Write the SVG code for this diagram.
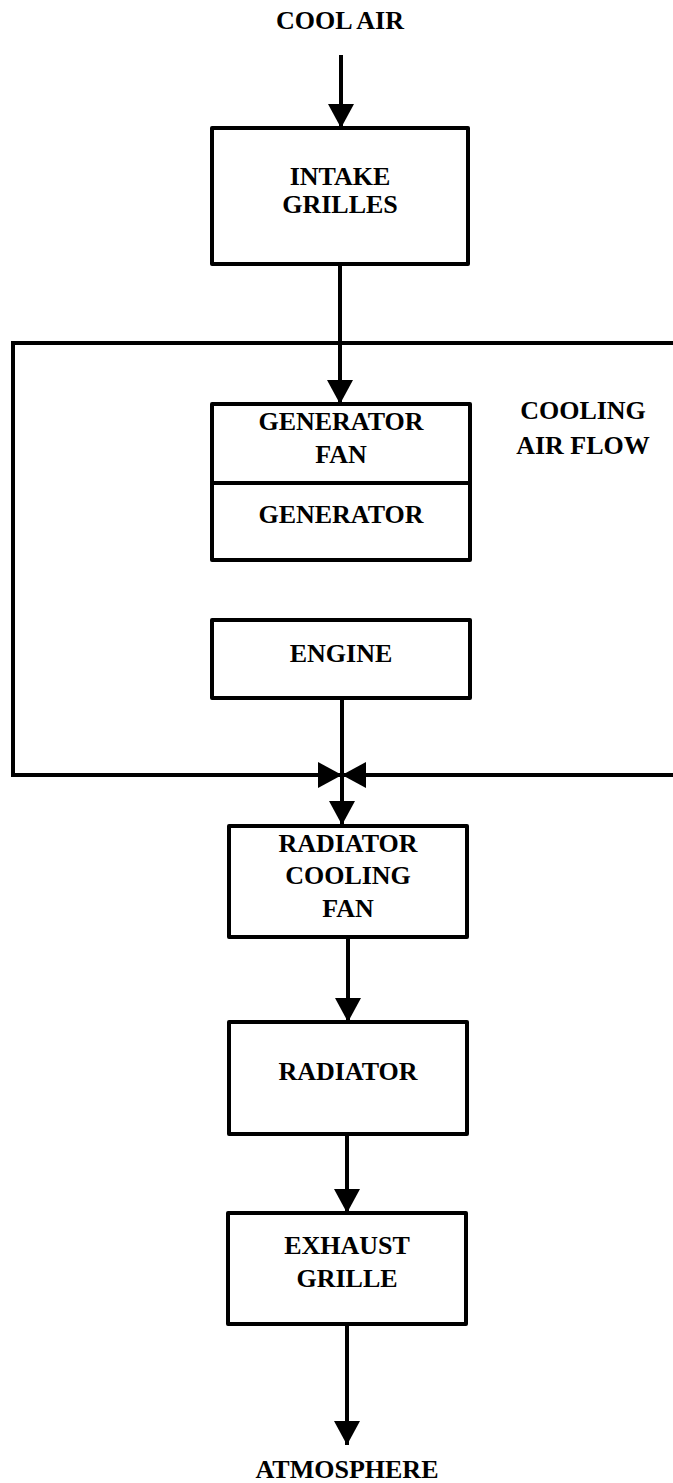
<svg xmlns="http://www.w3.org/2000/svg" width="673" height="1483" viewBox="0 0 673 1483">
<style>
.box{fill:#fff;stroke:#000;stroke-width:4;stroke-linejoin:round}
.ln{fill:none;stroke:#000;stroke-width:4}
.t{font-family:"Liberation Serif","Times New Roman",serif;font-weight:bold;font-size:26px;text-anchor:middle;fill:#000}
</style>
<defs>
<marker id="ah" viewBox="0 0 24 26" markerUnits="userSpaceOnUse" markerWidth="24" markerHeight="26" refX="24" refY="13" orient="auto">
<path d="M0,0 L24,13 L0,26 z" fill="#000"/>
</marker>
</defs>
<rect width="673" height="1483" fill="#fff"/>
<g id="connectors">
<path class="ln" d="M673,343 H13 V775 H342" marker-end="url(#ah)"/>
<path class="ln" d="M673,775 H342" marker-end="url(#ah)"/>
<path class="ln" d="M341,55 V128" marker-end="url(#ah)"/>
<path class="ln" d="M340,264 V404" marker-end="url(#ah)"/>
<path class="ln" d="M342,698 V825" marker-end="url(#ah)"/>
<path class="ln" d="M348,937 V1022" marker-end="url(#ah)"/>
<path class="ln" d="M347,1134 V1213" marker-end="url(#ah)"/>
<path class="ln" d="M347,1324 V1445" marker-end="url(#ah)"/>
</g>
<g id="cool-air"><text class="t" x="340" y="29">COOL AIR</text></g>
<g id="intake-grilles">
<rect class="box" x="212" y="128" width="256" height="136"/>
<text class="t" x="340" y="185">INTAKE</text>
<text class="t" x="340" y="213">GRILLES</text>
</g>
<g id="generator">
<rect class="box" x="212" y="404" width="258" height="156"/>
<line class="ln" x1="212" y1="483" x2="470" y2="483"/>
<text class="t" x="341" y="430">GENERATOR</text>
<text class="t" x="341" y="463">FAN</text>
<text class="t" x="341" y="523">GENERATOR</text>
</g>
<g id="cooling-air-flow">
<text class="t" x="583" y="419">COOLING</text>
<text class="t" x="583" y="454">AIR FLOW</text>
</g>
<g id="engine">
<rect class="box" x="212" y="620" width="258" height="78"/>
<text class="t" x="341" y="662">ENGINE</text>
</g>
<g id="radiator-cooling-fan">
<rect class="box" x="229" y="826" width="238" height="111"/>
<text class="t" x="348" y="852">RADIATOR</text>
<text class="t" x="348" y="884">COOLING</text>
<text class="t" x="348" y="917">FAN</text>
</g>
<g id="radiator">
<rect class="box" x="229" y="1022" width="238" height="112"/>
<text class="t" x="348" y="1080">RADIATOR</text>
</g>
<g id="exhaust-grille">
<rect class="box" x="228" y="1213" width="238" height="111"/>
<text class="t" x="347" y="1254">EXHAUST</text>
<text class="t" x="347" y="1287">GRILLE</text>
</g>
<g id="atmosphere"><text class="t" x="347" y="1478">ATMOSPHERE</text></g>
</svg>
